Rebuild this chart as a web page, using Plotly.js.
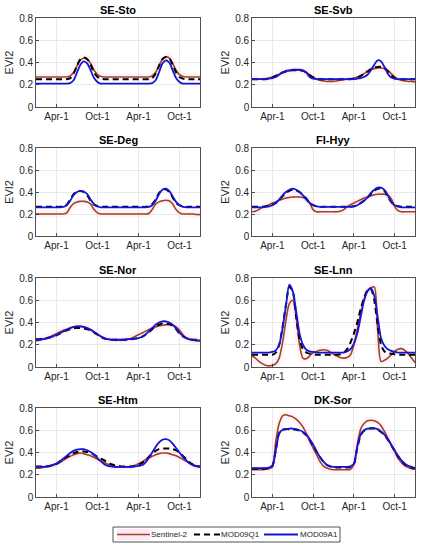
<!DOCTYPE html>
<html>
<head>
<meta charset="utf-8">
<script src="https://cdn.plot.ly/plotly-3.0.1.min.js"></script>
<style>html,body{margin:0;padding:0;background:#fff;}#chart{width:423px;height:550px;}</style>
</head>
<body>
<div id="chart"></div>
<script>
// sampling positions: months since 1 January of year 1 (two years shown)
const months = [0,0.5,1,1.5,2,2.5,3,3.5,4,4.5,5,5.5,6,6.5,7,7.5,8,8.5,9,9.5,10,10.5,11,11.5,12,12.5,13,13.5,14,14.5,15,15.5,16,16.5,17,17.5,18,18.5,19,19.5,20,20.5,21,21.5,22,22.5,23,23.5,24];
const tickPos = [3, 9, 15, 21];
const tickText = ["Apr-1", "Oct-1", "Apr-1", "Oct-1"];
const seriesNames = ["Sentinel-2", "MOD09Q1", "MOD09A1"];
const siteNames = ["SE-Sto", "SE-Svb", "SE-Deg", "FI-Hyy", "SE-Nor", "SE-Lnn", "SE-Htm", "DK-Sor"];

// SE-Sto
const stoS2 = [0.27,0.27,0.27,0.27,0.27,0.27,0.27,0.27,0.27,0.27, 0.28,0.31,0.37,0.42,0.44,0.43,0.39,0.33,0.29,0.275, 0.27,0.27,0.27,0.27,0.27,0.27,0.27,0.27,0.27,0.27,0.27,0.27,0.27,0.27, 0.28,0.31,0.37,0.43,0.45,0.44,0.39,0.33,0.29,0.275, 0.27,0.27,0.27,0.27,0.27];
const stoQ1 = [0.25,0.25,0.25,0.25,0.25,0.25,0.25,0.25,0.25,0.25, 0.26,0.30,0.37,0.43,0.445,0.43,0.38,0.31,0.27,0.255, 0.25,0.25,0.25,0.25,0.25,0.25,0.25,0.25,0.25,0.25,0.25,0.25,0.25,0.25, 0.26,0.30,0.37,0.43,0.45,0.44,0.38,0.31,0.27,0.255, 0.25,0.25,0.25,0.25,0.25];
const stoA1 = [0.21,0.21,0.21,0.21,0.21,0.21,0.21,0.21,0.21,0.21, 0.215,0.24,0.31,0.38,0.41,0.39,0.33,0.26,0.225,0.21, 0.21,0.21,0.21,0.21,0.21,0.21,0.21,0.21,0.21,0.21,0.21,0.21,0.21,0.21, 0.215,0.24,0.31,0.39,0.42,0.40,0.33,0.26,0.225,0.21, 0.21,0.21,0.21,0.21,0.21];

// SE-Svb
const svbS2 = [0.25,0.25,0.25,0.25,0.255,0.26,0.27,0.28,0.295,0.31,0.32,0.325,0.33,0.33,0.33,0.325,0.31,0.29,0.27,0.25, 0.24,0.235,0.23,0.23,0.23,0.235,0.24,0.245,0.25,0.255, 0.26,0.27,0.28,0.30,0.32,0.335,0.345,0.35,0.35,0.345,0.33,0.30,0.27,0.25, 0.24,0.235,0.23,0.23,0.225];
const svbQ1 = [0.25,0.25,0.25,0.25,0.25, 0.255,0.265,0.28,0.295,0.31,0.32,0.33,0.33,0.33,0.33,0.325,0.31,0.285,0.265,0.255, 0.25,0.25,0.25,0.25,0.25,0.25,0.25,0.25,0.25,0.25, 0.255,0.265,0.28,0.30,0.32,0.34,0.355,0.36,0.36,0.35,0.32,0.285,0.26,0.25, 0.25,0.25,0.25,0.25,0.25];
const svbA1 = [0.25,0.25,0.25,0.25,0.25,0.255,0.26,0.27,0.29,0.31,0.325,0.33,0.335,0.335,0.335,0.33,0.31,0.27,0.255,0.25, 0.25,0.25,0.25,0.25,0.25,0.25,0.25,0.25,0.25,0.25, 0.25,0.255,0.26,0.27,0.29,0.33,0.38,0.42,0.41,0.36,0.30,0.265,0.255,0.25, 0.25,0.25,0.25,0.25,0.25];

// SE-Deg
const degS2 = [0.20,0.20,0.20,0.20,0.20,0.20,0.20,0.20,0.20, 0.21,0.26,0.295,0.31,0.315,0.315,0.31,0.29,0.24,0.21,0.20, 0.20,0.20,0.20,0.20,0.20,0.20,0.20,0.20,0.20,0.20,0.20,0.20,0.20, 0.205,0.24,0.29,0.31,0.32,0.325,0.32,0.29,0.24,0.21,0.20, 0.20,0.20,0.20,0.195,0.195];
const degQ1 = [0.265,0.265,0.265,0.265,0.265,0.265,0.265,0.265, 0.27,0.285,0.33,0.38,0.405,0.41,0.40,0.37,0.32,0.285,0.27,0.265, 0.265,0.265,0.265,0.265,0.265,0.265,0.265,0.265,0.265,0.265,0.265,0.265,0.265, 0.27,0.29,0.33,0.39,0.42,0.425,0.40,0.35,0.30,0.28,0.27, 0.265,0.265,0.265,0.265,0.265];
const degA1 = [0.26,0.26,0.26,0.26,0.26,0.26,0.26,0.26, 0.265,0.28,0.32,0.37,0.40,0.41,0.405,0.38,0.33,0.29,0.27,0.26, 0.26,0.26,0.26,0.26,0.26,0.26,0.26,0.26,0.26,0.26,0.26,0.26,0.26, 0.265,0.28,0.32,0.38,0.42,0.43,0.41,0.36,0.31,0.28,0.265, 0.26,0.26,0.26,0.26,0.26];

// FI-Hyy
const hyyS2 = [0.22,0.225,0.24,0.26,0.27,0.285,0.30,0.31,0.325,0.335,0.345,0.35,0.355,0.355,0.355,0.35,0.34,0.30,0.24,0.22, 0.22,0.22,0.22,0.22,0.22,0.22,0.225,0.24,0.265,0.285, 0.30,0.315,0.33,0.345,0.355,0.365,0.375,0.38,0.38,0.38,0.37,0.34,0.27,0.23, 0.22,0.22,0.22,0.22,0.22];
const hyyQ1 = [0.265,0.265,0.265,0.265,0.27,0.275,0.285,0.30,0.33,0.36,0.39,0.41,0.42,0.415,0.40,0.37,0.34,0.30,0.28,0.27, 0.265,0.265,0.265,0.265,0.265,0.265,0.265,0.265,0.265,0.265, 0.27,0.28,0.30,0.32,0.35,0.38,0.41,0.43,0.43,0.41,0.36,0.31,0.285,0.27, 0.265,0.265,0.265,0.265,0.265];
const hyyA1 = [0.26,0.26,0.26,0.26,0.265,0.27,0.28,0.30,0.33,0.37,0.40,0.42,0.43,0.42,0.40,0.37,0.33,0.30,0.28,0.27, 0.265,0.265,0.265,0.265,0.265,0.265,0.265,0.265,0.265,0.265, 0.27,0.28,0.30,0.32,0.35,0.39,0.42,0.44,0.44,0.42,0.37,0.31,0.28,0.27, 0.26,0.26,0.26,0.26,0.26];

// SE-Nor
const norS2 = [0.235,0.24,0.25,0.26,0.27,0.285,0.30,0.315,0.33,0.34,0.35,0.36,0.365,0.365,0.36,0.35,0.335,0.315,0.295,0.275, 0.26,0.25,0.245,0.24,0.24,0.24,0.245,0.25,0.26,0.275, 0.29,0.305,0.32,0.335,0.35,0.36,0.37,0.375,0.38,0.38,0.375,0.36,0.33,0.29, 0.26,0.245,0.24,0.235,0.235];
const norQ1 = [0.25,0.25,0.255,0.26,0.265,0.275,0.285,0.30,0.315,0.33,0.34,0.35,0.35,0.35,0.345,0.34,0.33,0.31,0.29,0.27, 0.255,0.25,0.245,0.245,0.245,0.245,0.245,0.25,0.25,0.255, 0.26,0.27,0.29,0.31,0.34,0.365,0.38,0.39,0.39,0.385,0.37,0.34,0.30,0.275, 0.26,0.25,0.245,0.245,0.245];
const norA1 = [0.245,0.245,0.25,0.255,0.265,0.275,0.29,0.305,0.32,0.335,0.35,0.36,0.365,0.365,0.36,0.35,0.335,0.315,0.295,0.275, 0.26,0.25,0.245,0.245,0.245,0.245,0.245,0.25,0.25,0.255, 0.26,0.27,0.29,0.32,0.35,0.38,0.40,0.41,0.41,0.40,0.38,0.35,0.31,0.28, 0.26,0.25,0.245,0.24,0.24];

// SE-Lnn
const lnnS2 = [0.10,0.08,0.05,0.03,0.015,0.01,0.015,0.03,0.08,0.22,0.42,0.57,0.60,0.45,0.20,0.08,0.075,0.10,0.13,0.14, 0.15,0.155,0.15,0.135,0.115,0.10,0.085,0.08,0.085,0.11, 0.20,0.34,0.48,0.60,0.68,0.71,0.72,0.33,0.05,0.06,0.08,0.11,0.14,0.16, 0.165,0.15,0.12,0.08,0.04];
const lnnQ1 = [0.11,0.11,0.11,0.11,0.11,0.11,0.11, 0.13,0.20,0.36,0.56,0.72,0.68,0.45,0.25,0.16,0.13,0.12,0.115,0.11, 0.11,0.11,0.11,0.11,0.11,0.11, 0.115,0.13,0.16,0.22,0.30,0.40,0.52,0.62,0.69,0.70,0.60,0.38,0.20,0.14,0.125,0.12,0.115,0.11, 0.11,0.11,0.11,0.11,0.11];
const lnnA1 = [0.13,0.13,0.13,0.13,0.13,0.13,0.135,0.15,0.20,0.35,0.55,0.74,0.68,0.50,0.30,0.20,0.155,0.14,0.135,0.13, 0.13,0.13,0.13,0.13,0.13,0.13,0.13,0.13,0.14,0.16, 0.21,0.30,0.45,0.60,0.68,0.71,0.64,0.45,0.26,0.19,0.16,0.145,0.135,0.13, 0.13,0.13,0.13,0.13,0.13];

// SE-Htm
const htmS2 = [0.26,0.26,0.265,0.27,0.275,0.285,0.295,0.31,0.33,0.35,0.365,0.38,0.39,0.395,0.39,0.38,0.37,0.355,0.34,0.325, 0.31,0.295,0.285,0.275,0.27,0.27,0.27,0.27,0.275,0.285, 0.30,0.315,0.335,0.35,0.365,0.38,0.39,0.395,0.395,0.39,0.38,0.37,0.355,0.34, 0.32,0.305,0.29,0.28,0.27];
const htmQ1 = [0.275,0.275,0.275,0.275, 0.28,0.29,0.30,0.32,0.34,0.36,0.38,0.395,0.405,0.41,0.41,0.405,0.395,0.38,0.36,0.345, 0.33,0.31,0.295,0.285,0.28,0.275,0.275,0.275,0.275,0.28, 0.29,0.305,0.33,0.36,0.39,0.415,0.43,0.435,0.435,0.435,0.43,0.42,0.40,0.37, 0.34,0.31,0.29,0.28,0.275];
const htmA1 = [0.27,0.27,0.27,0.275,0.28,0.29,0.30,0.32,0.345,0.37,0.395,0.415,0.425,0.43,0.43,0.42,0.405,0.38,0.35,0.32, 0.295,0.28,0.275,0.27,0.27,0.27,0.27,0.27,0.27,0.275, 0.28,0.285,0.31,0.35,0.40,0.45,0.49,0.515,0.52,0.51,0.48,0.44,0.40,0.36, 0.33,0.30,0.285,0.275,0.27];

// DK-Sor
const sorS2 = [0.245,0.245,0.245,0.245,0.25,0.255,0.27,0.50,0.66,0.73,0.74,0.73,0.72,0.70,0.67,0.63,0.57,0.50,0.44,0.38, 0.32,0.28,0.26,0.25,0.245,0.245,0.245,0.245,0.245,0.25, 0.29,0.47,0.61,0.66,0.685,0.69,0.685,0.67,0.64,0.59,0.53,0.47,0.41,0.35, 0.31,0.28,0.265,0.255,0.25];
const sorQ1 = [0.255,0.255,0.255,0.255,0.255, 0.26,0.28,0.42,0.575,0.605,0.61,0.61,0.61,0.605,0.595,0.58,0.555,0.515,0.465,0.41, 0.36,0.32,0.29,0.275,0.27,0.265,0.265,0.265,0.265,0.27, 0.295,0.44,0.555,0.595,0.61,0.615,0.615,0.605,0.585,0.555,0.515,0.465,0.415,0.365, 0.325,0.295,0.275,0.265,0.255];
const sorA1 = [0.26,0.26,0.26,0.26,0.26,0.265,0.28,0.42,0.57,0.605,0.61,0.615,0.615,0.61,0.60,0.585,0.56,0.52,0.47,0.41, 0.36,0.32,0.29,0.275,0.27,0.27,0.27,0.27,0.27,0.275, 0.30,0.45,0.56,0.60,0.615,0.62,0.62,0.61,0.59,0.56,0.52,0.47,0.42,0.37, 0.33,0.30,0.28,0.27,0.26];

const siteData = [
  [stoS2, stoQ1, stoA1],
  [svbS2, svbQ1, svbA1],
  [degS2, degQ1, degA1],
  [hyyS2, hyyQ1, hyyA1],
  [norS2, norQ1, norA1],
  [lnnS2, lnnQ1, lnnA1],
  [htmS2, htmQ1, htmA1],
  [sorS2, sorQ1, sorA1]
];

const W = 423, H = 550;
const colX = [[36, 200], [252, 415]];
const rowY = [[18, 107], [148, 236], [278, 367], [408, 497]];
const FONT = 'Liberation Sans, Arial, sans-serif';
const styles = [
  {color: '#9E4420', width: 1.6},
  {color: '#000000', width: 2, dash: '6px,4px'},
  {color: '#1414D8', width: 1.8}
];

const traces = [];
const layout = {
  width: W, height: H,
  margin: {l: 0, r: 0, t: 0, b: 0},
  paper_bgcolor: '#ffffff',
  plot_bgcolor: '#ffffff',
  font: {family: FONT, size: 10, color: '#262626'},
  showlegend: false,
  annotations: [],
  shapes: []
};

for (let k = 0; k < 8; k++) {
  const col = k % 2, row = Math.floor(k / 2);
  const sfx = k === 0 ? '' : String(k + 1);
  const xa = 'x' + sfx, ya = 'y' + sfx;
  const xd = [colX[col][0] / W, colX[col][1] / W];
  const yd = [1 - rowY[row][1] / H, 1 - rowY[row][0] / H];
  const axCommon = {
    showline: true, mirror: true, linecolor: '#262626', linewidth: 0.8,
    ticks: 'inside', ticklen: 3, tickcolor: '#262626', tickwidth: 0.8,
    showgrid: true, gridcolor: '#e3e3e3', gridwidth: 0.8,
    zeroline: false,
    tickfont: {size: 10, color: '#262626', family: FONT}
  };
  layout['xaxis' + sfx] = Object.assign({}, axCommon, {
    domain: xd, anchor: ya, range: [0, 24],
    tickmode: 'array', tickvals: tickPos, ticktext: tickText
  });
  layout['yaxis' + sfx] = Object.assign({}, axCommon, {
    domain: yd, anchor: xa, range: [0, 0.8],
    tickmode: 'array', tickvals: [0, 0.2, 0.4, 0.6, 0.8], ticktext: ['0', '0.2', '0.4', '0.6', '0.8'],
    title: {text: 'EVI2', font: {size: 11, color: '#262626'}, standoff: 3}
  });
  layout.annotations.push({
    text: '<b>' + siteNames[k] + '</b>',
    xref: 'paper', yref: 'paper',
    x: (xd[0] + xd[1]) / 2, y: yd[1],
    xanchor: 'center', yanchor: 'bottom', yshift: 0,
    showarrow: false,
    font: {size: 11, color: '#000000', family: FONT}
  });
  // faint pink envelope behind Sentinel-2
  traces.push({
    x: months, y: siteData[k][0], xaxis: xa, yaxis: ya,
    mode: 'lines', line: {color: 'rgba(255,175,220,0.16)', width: 7, shape: 'spline', smoothing: 0.8},
    hoverinfo: 'skip', showlegend: false
  });
  for (let s = 0; s < 3; s++) {
    traces.push({
      x: months, y: siteData[k][s], xaxis: xa, yaxis: ya,
      name: seriesNames[s],
      mode: 'lines',
      line: Object.assign({shape: 'spline', smoothing: 0.8}, styles[s]),
      showlegend: false
    });
  }
}

// legend box (drawn as shapes + text)
const px = v => v / W, py = v => 1 - v / H;
const legTop = 527, legBot = 542, legMid = 534.5;
layout.shapes.push({type: 'rect', xref: 'paper', yref: 'paper',
  x0: px(113), x1: px(340), y0: py(legBot), y1: py(legTop),
  line: {color: '#262626', width: 0.8}, fillcolor: '#ffffff', layer: 'below'});
layout.shapes.push({type: 'rect', xref: 'paper', yref: 'paper',
  x0: px(117), x1: px(150), y0: py(legBot - 2), y1: py(legTop + 2),
  line: {width: 0}, fillcolor: 'rgba(255,190,225,0.35)', layer: 'below'});
// [line start, line end, text start]
const legItems = [[117, 150, 151], [194, 220, 221], [264, 298, 300]];
for (let s = 0; s < 3; s++) {
  const it = legItems[s];
  layout.shapes.push({type: 'line', xref: 'paper', yref: 'paper',
    x0: px(it[0]), x1: px(it[1]), y0: py(legMid), y1: py(legMid),
    line: {color: styles[s].color, width: styles[s].width, dash: s === 1 ? '6px,4px' : 'solid'}, layer: 'below'});
  layout.annotations.push({text: seriesNames[s], xref: 'paper', yref: 'paper',
    x: px(it[2]), y: py(legMid), xanchor: 'left', yanchor: 'middle', showarrow: false,
    xshift: -1, borderpad: 0,
    font: {size: 8, color: '#262626', family: FONT}});
}

Plotly.newPlot('chart', traces, layout, {displayModeBar: false, staticPlot: true});
</script>
</body>
</html>
